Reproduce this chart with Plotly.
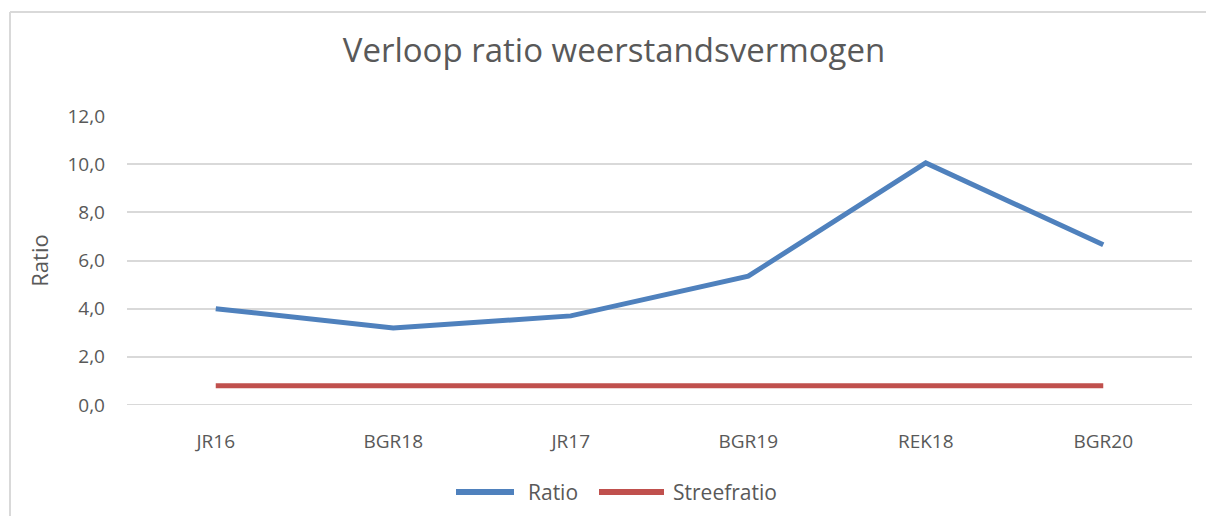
import plotly.graph_objects as go

categories = ["JR16", "BGR18", "JR17", "BGR19", "REK18", "BGR20"]
ratio = [4.0, 3.2, 3.7, 5.35, 10.05, 6.65]
streefratio = [0.8, 0.8, 0.8, 0.8, 0.8, 0.8]
y_ticks = [0, 2, 4, 6, 8, 10, 12]
y_tick_labels = ["0,0", "2,0", "4,0", "6,0", "8,0", "10,0", "12,0"]
series_names = ["Ratio", "Streefratio"]
series_colors = ["#4F81BD", "#C0504D"]

FONT = "Open Sans, Liberation Sans, sans-serif"
GREY = "#595959"

fig = go.Figure()
for name, vals, col in zip(series_names, [ratio, streefratio], series_colors):
    fig.add_trace(go.Scatter(x=categories, y=vals, mode="lines", name=name,
                             line=dict(color=col, width=5), showlegend=False))

L, R, T, B = 127, 14, 116, 111
W, H = 1206, 516
pw = W - L - R
ph = H - T - B

def px_x(x):
    return (x - L) / pw

def px_y(y):
    return (H - B - y) / ph

shapes = [
    dict(type="line", xref="paper", yref="paper", x0=px_x(10), x1=px_x(1206),
         y0=px_y(12), y1=px_y(12), line=dict(color="#D9D9D9", width=2)),
    dict(type="line", xref="paper", yref="paper", x0=px_x(10), x1=px_x(10),
         y0=px_y(12), y1=px_y(516), line=dict(color="#D9D9D9", width=2)),
    dict(type="line", xref="paper", yref="y", x0=0, x1=1, y0=0, y1=0,
         line=dict(color="#D9D9D9", width=2), layer="below"),
]
annotations = []
# custom legend (line swatch + label), positioned like the reference
legend_pos = [(456, 514, 526), (599, 664, 671)]
for name, col, (s0, s1, tx) in zip(series_names, series_colors, legend_pos):
    shapes.append(dict(type="line", xref="paper", yref="paper", x0=px_x(s0), x1=px_x(s1),
                       y0=px_y(492), y1=px_y(492), line=dict(color=col, width=6)))
    annotations.append(dict(text=name, xref="paper", yref="paper", x=px_x(tx), y=px_y(492),
                            xanchor="left", yanchor="middle", showarrow=False,
                            font=dict(family=FONT, size=21, color=GREY)))

fig.update_layout(
    width=W, height=H,
    margin=dict(l=L, r=R, t=T, b=B, autoexpand=False),
    paper_bgcolor="white", plot_bgcolor="white",
    title=dict(text="Verloop ratio weerstandsvermogen", x=614 / W, xanchor="center",
               y=1 - 50 / H, yanchor="middle",
               font=dict(family=FONT, size=33, color=GREY)),
    font=dict(family=FONT, color=GREY, size=19),
    showlegend=False,
    xaxis=dict(type="category", range=[-0.5, 5.5], showgrid=False, showline=False,
               zeroline=False, ticks="", tickfont=dict(size=19, color=GREY),
               ticklabelstandoff=23, automargin=False),
    yaxis=dict(range=[0, 12], tickvals=y_ticks, ticktext=y_tick_labels,
               showgrid=True, gridcolor="#D9D9D9", gridwidth=2, zeroline=False,
               showline=False, ticks="", tickfont=dict(size=19, color=GREY),
               ticklabelstandoff=21, automargin=False,
               title=dict(text="Ratio", font=dict(size=22, color=GREY), standoff=12)),
    shapes=shapes,
    annotations=annotations,
)

fig.write_html("out.html", config={"displayModeBar": False},
               post_script="document.body.style.margin='0';document.body.style.overflow='hidden';")
